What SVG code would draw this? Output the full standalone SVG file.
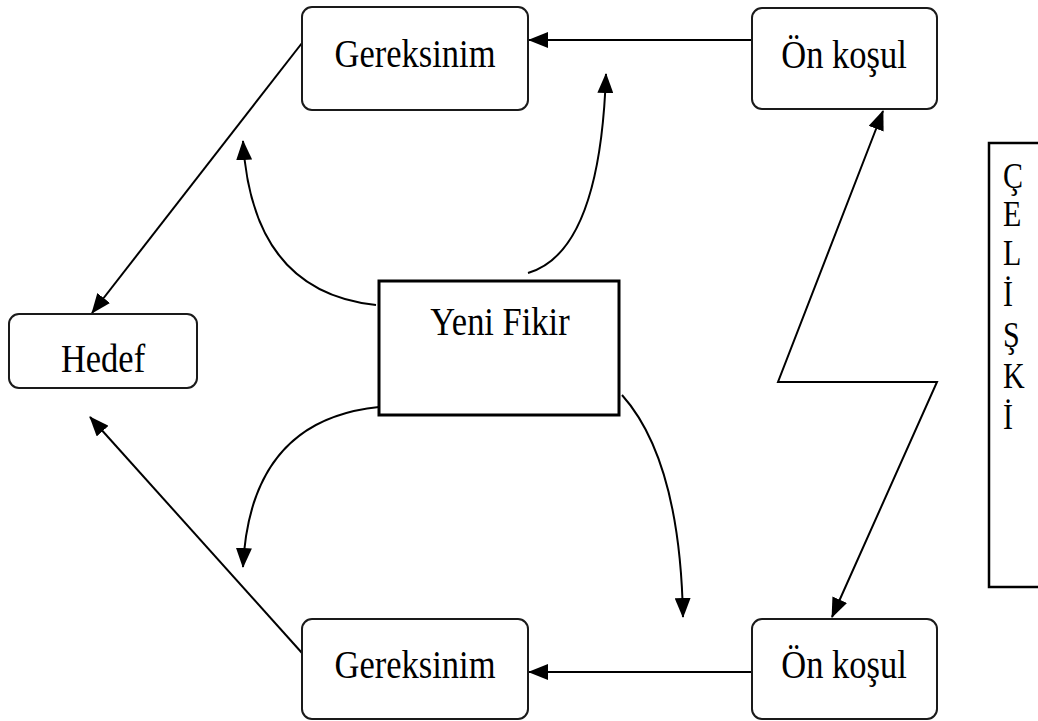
<svg xmlns="http://www.w3.org/2000/svg" width="1038" height="721" viewBox="0 0 1038 721">
  <style>
    .box { fill: #fff; stroke: #1a1a1a; stroke-width: 2; }
    .idea { fill: #fff; stroke: #000; stroke-width: 3; }
    .side { fill: #fff; stroke: #000; stroke-width: 2.5; }
    .lbl { font-family: "Liberation Serif", "Times New Roman", serif; font-size: 34.5px; fill: #000; text-anchor: middle; }
    .ch { font-family: "Liberation Serif", "Times New Roman", serif; font-size: 30px; fill: #000; }
    .edge { fill: none; stroke: #000; stroke-width: 2; }
  </style>
  <defs>
    <marker id="arrow" viewBox="0 0 20 16" refX="19" refY="8" markerWidth="20" markerHeight="16" markerUnits="userSpaceOnUse" orient="auto-start-reverse">
      <path d="M0,0 L20,8 L0,16 Z" fill="#000"/>
    </marker>
  </defs>

  <rect width="1038" height="721" fill="#fff"/>

  <!-- connectors -->
  <g id="connectors">
    <line class="edge" x1="752" y1="40" x2="529" y2="40" marker-end="url(#arrow)"/>
    <line class="edge" x1="752" y1="672" x2="529" y2="672" marker-end="url(#arrow)"/>
    <line class="edge" x1="302" y1="43" x2="92" y2="313" marker-end="url(#arrow)"/>
    <line class="edge" x1="302" y1="653" x2="90" y2="417" marker-end="url(#arrow)"/>
    <path class="edge" d="M376,305 Q252,292 243,141" marker-end="url(#arrow)"/>
    <path class="edge" d="M528,273 Q600,252 606,74" marker-end="url(#arrow)"/>
    <path class="edge" d="M379,407 Q250,420 243,567" marker-end="url(#arrow)"/>
    <path class="edge" d="M622,395 Q680,460 683,617" marker-end="url(#arrow)"/>
    <path class="edge" d="M883,111 L778,382 L937,382 L832,617" marker-start="url(#arrow)" marker-end="url(#arrow)"/>
  </g>

  <!-- nodes -->
  <g id="gereksinim-top">
    <rect class="box" x="302" y="7" width="226" height="103" rx="10"/>
    <text class="lbl" transform="matrix(1 0 0 1.17 415 67)">Gereksinim</text>
  </g>
  <g id="onkosul-top">
    <rect class="box" x="752" y="8" width="185" height="101" rx="10"/>
    <text class="lbl" transform="matrix(1 0 0 1.17 844 68)">Ön koşul</text>
  </g>
  <g id="hedef">
    <rect class="box" x="9" y="314" width="188" height="74" rx="10"/>
    <text class="lbl" transform="matrix(1 0 0 1.17 103 372)">Hedef</text>
  </g>
  <g id="yeni-fikir">
    <rect class="idea" x="379" y="281" width="240" height="134"/>
    <text class="lbl" transform="matrix(1 0 0 1.17 500 335)">Yeni Fikir</text>
  </g>
  <g id="gereksinim-bottom">
    <rect class="box" x="302" y="619" width="226" height="100" rx="10"/>
    <text class="lbl" transform="matrix(1 0 0 1.17 415 678)">Gereksinim</text>
  </g>
  <g id="onkosul-bottom">
    <rect class="box" x="752" y="619" width="185" height="100" rx="10"/>
    <text class="lbl" transform="matrix(1 0 0 1.17 844 678)">Ön koşul</text>
  </g>
  <g id="celiski">
    <rect class="side" x="989" y="143" width="60" height="444"/>
    <text class="ch" transform="matrix(1 0 0 1.17 1003 188)">Ç</text>
    <text class="ch" transform="matrix(1 0 0 1.17 1003 226)">E</text>
    <text class="ch" transform="matrix(1 0 0 1.17 1003 265)">L</text>
    <text class="ch" transform="matrix(1 0 0 1.17 1003 306)">İ</text>
    <text class="ch" transform="matrix(1 0 0 1.17 1003 347)">Ş</text>
    <text class="ch" transform="matrix(1 0 0 1.17 1003 388)">K</text>
    <text class="ch" transform="matrix(1 0 0 1.17 1003 429)">İ</text>
  </g>
</svg>
